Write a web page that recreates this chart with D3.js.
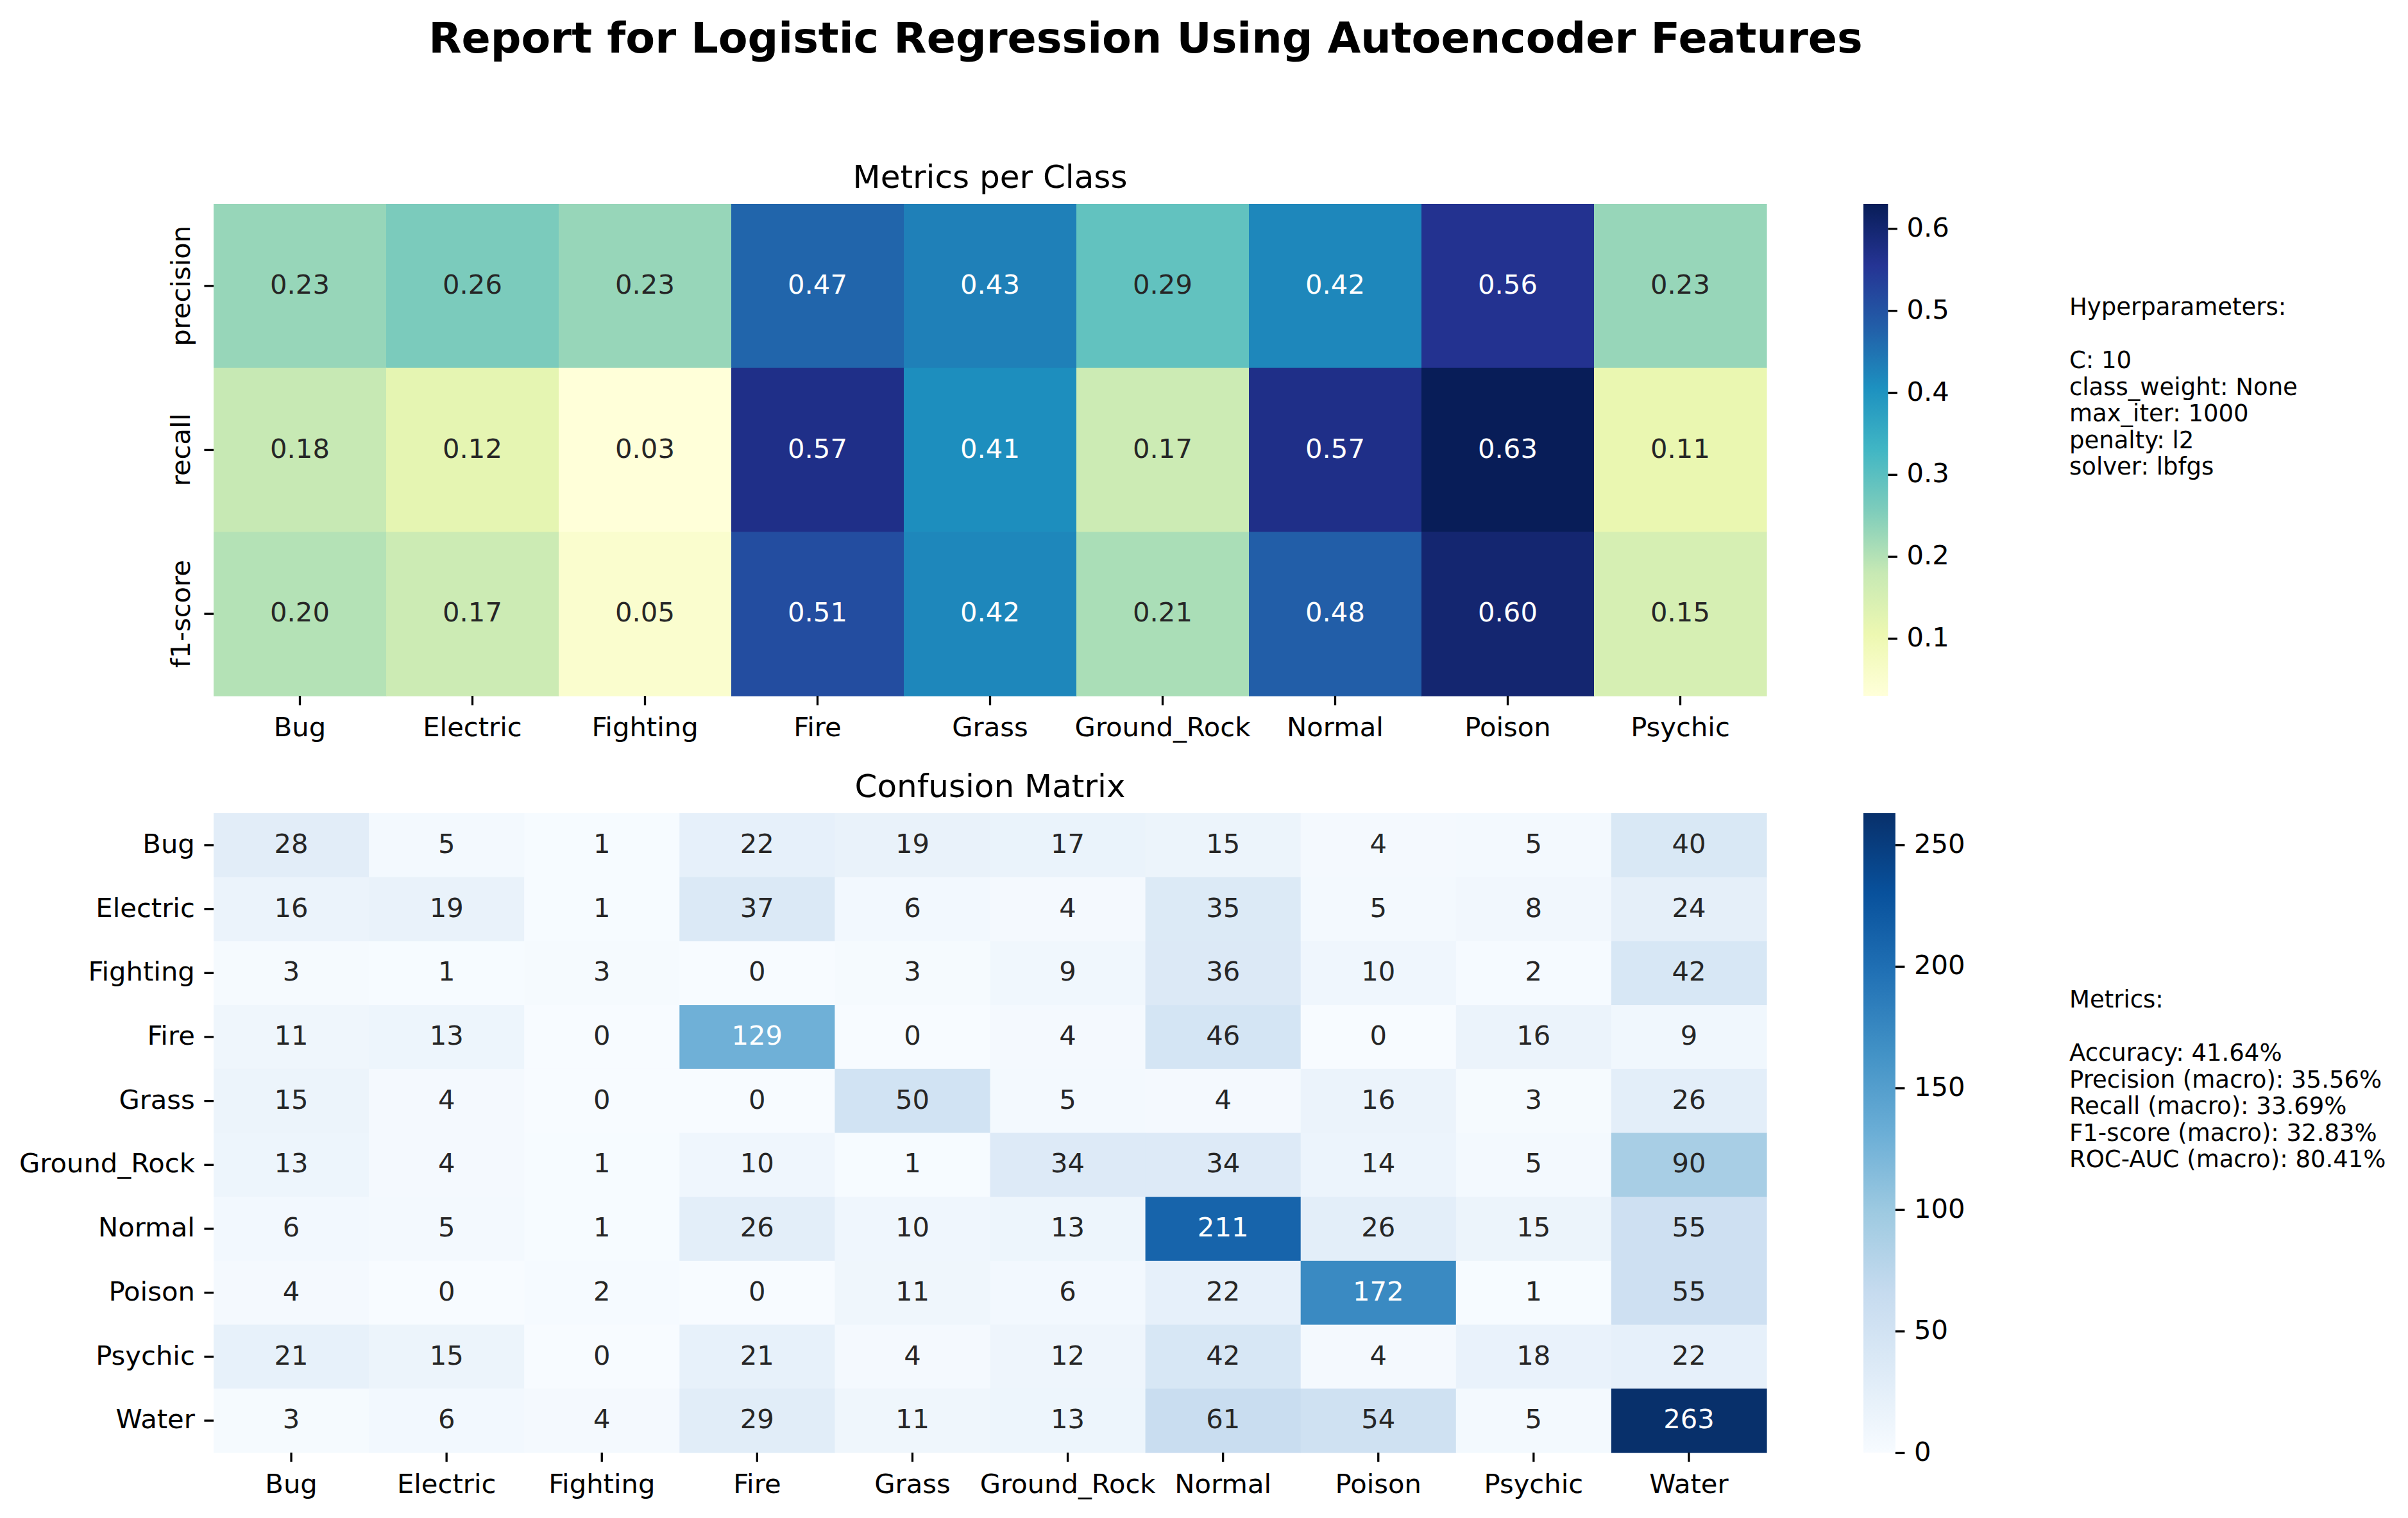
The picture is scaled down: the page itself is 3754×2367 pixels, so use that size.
<!DOCTYPE html>
<html>
<head>
<meta charset="utf-8">
<script src="https://cdn.jsdelivr.net/npm/d3@7"></script>
<style>
  html, body { margin: 0; padding: 0; background: #ffffff; }
  svg { display: block; font-family: "DejaVu Sans", sans-serif; }
</style>
</head>
<body>
<svg id="chart" width="3754" height="2367"></svg>
<script>
// ---------------- DATA ----------------
const metricClasses = ["Bug", "Electric", "Fighting", "Fire", "Grass", "Ground_Rock", "Normal", "Poison", "Psychic"];
const metricNames = ["precision", "recall", "f1-score"];
const precisionValues = [0.23, 0.26, 0.23, 0.47, 0.43, 0.29, 0.42, 0.56, 0.23];
const recallValues    = [0.18, 0.12, 0.03, 0.57, 0.41, 0.17, 0.57, 0.63, 0.11];
const f1Values        = [0.20, 0.17, 0.05, 0.51, 0.42, 0.21, 0.48, 0.60, 0.15];
const metricTicks = [0.1, 0.2, 0.3, 0.4, 0.5, 0.6];

const cmClasses = ["Bug", "Electric", "Fighting", "Fire", "Grass", "Ground_Rock", "Normal", "Poison", "Psychic", "Water"];
const cmBug        = [28, 5, 1, 22, 19, 17, 15, 4, 5, 40];
const cmElectric   = [16, 19, 1, 37, 6, 4, 35, 5, 8, 24];
const cmFighting   = [3, 1, 3, 0, 3, 9, 36, 10, 2, 42];
const cmFire       = [11, 13, 0, 129, 0, 4, 46, 0, 16, 9];
const cmGrass      = [15, 4, 0, 0, 50, 5, 4, 16, 3, 26];
const cmGroundRock = [13, 4, 1, 10, 1, 34, 34, 14, 5, 90];
const cmNormal     = [6, 5, 1, 26, 10, 13, 211, 26, 15, 55];
const cmPoison     = [4, 0, 2, 0, 11, 6, 22, 172, 1, 55];
const cmPsychic    = [21, 15, 0, 21, 4, 12, 42, 4, 18, 22];
const cmWater      = [3, 6, 4, 29, 11, 13, 61, 54, 5, 263];
const cmTicks = [0, 50, 100, 150, 200, 250];

const mainTitle = "Report for Logistic Regression Using Autoencoder Features";
const topTitle = "Metrics per Class";
const bottomTitle = "Confusion Matrix";
const hyperLines = ["Hyperparameters:", "", "C: 10", "class_weight: None", "max_iter: 1000", "penalty: l2", "solver: lbfgs"];
const metricLines = ["Metrics:", "", "Accuracy: 41.64%", "Precision (macro): 35.56%", "Recall (macro): 33.69%", "F1-score (macro): 32.83%", "ROC-AUC (macro): 80.41%"];

// ---------------- HELPERS ----------------
const metricMatrix = [precisionValues, recallValues, f1Values];
const cmMatrix = [cmBug, cmElectric, cmFighting, cmFire, cmGrass, cmGroundRock, cmNormal, cmPoison, cmPsychic, cmWater];

function makeCmap(stops, vmin, vmax) {
  const n = stops.length;
  const pos = d3.scaleLinear().domain([vmin, vmax]).range([0, n - 1]).clamp(true);
  const interp = d3.scaleLinear().domain(d3.range(n)).range(stops).interpolate(d3.interpolateRgb);
  return v => interp(pos(v));
}
function luminance(c) {
  const rgb = d3.rgb(c);
  const ch = [rgb.r, rgb.g, rgb.b].map(v => {
    v = v / 255;
    return v <= 0.03928 ? v / 12.92 : Math.pow((v + 0.055) / 1.055, 2.4);
  });
  return 0.2126 * ch[0] + 0.7152 * ch[1] + 0.0722 * ch[2];
}
const textColor = c => luminance(c) > 0.408 ? "#262626" : "#ffffff";

const svg = d3.select("#chart");
const FS = 41.7;      // 10pt @ 300dpi
const TICK = 14.6;    // 3.5pt
const PAD = 14.6;
const TW = 3.3;       // 0.8pt

// ---------------- LAYOUT ----------------
const left = 333, right = 2754;
const top1 = 318, bot1 = 1085;
const top2 = 1268, bot2 = 2265;
const cbX = 2905;

// Main title
svg.append("text").attr("x", 1786).attr("y", 82)
  .attr("text-anchor", "middle").attr("font-size", 66.7).attr("font-weight", "bold")
  .attr("fill", "#000").text(mainTitle);

function styleAxis(g) {
  g.select(".domain").remove();
  g.selectAll(".tick line").attr("stroke", "#000").attr("stroke-width", TW);
  g.selectAll(".tick text").attr("fill", "#000").attr("font-size", FS)
    .attr("font-family", "DejaVu Sans");
}

function heatmap(opts) {
  const { rows, cols, matrix, x0, x1, y0, y1, cmap, fmt, title, rotateY } = opts;
  const x = d3.scaleBand().domain(cols).range([x0, x1]);
  const y = d3.scaleBand().domain(rows).range([y0, y1]);
  const g = svg.append("g");
  const cells = [];
  matrix.forEach((row, i) => row.forEach((v, j) => cells.push({ r: rows[i], c: cols[j], v })));
  g.selectAll("rect").data(cells).join("rect")
    .attr("x", d => x(d.c)).attr("y", d => y(d.r))
    .attr("width", x.bandwidth() + 0.6).attr("height", y.bandwidth() + 0.6)
    .attr("fill", d => cmap(d.v));
  g.selectAll("text.ann").data(cells).join("text").attr("class", "ann")
    .attr("x", d => x(d.c) + x.bandwidth() / 2)
    .attr("y", d => y(d.r) + y.bandwidth() / 2)
    .attr("dy", "0.29em")
    .attr("text-anchor", "middle").attr("font-size", FS)
    .attr("fill", d => textColor(cmap(d.v)))
    .text(d => fmt(d.v));

  // x axis
  const gx = svg.append("g").attr("transform", `translate(0,${y1})`)
    .call(d3.axisBottom(x).tickSize(TICK).tickPadding(PAD));
  styleAxis(gx);
  gx.selectAll(".tick text").attr("dy", "0.8em");

  // y axis
  const gy = svg.append("g").attr("transform", `translate(${x0},0)`)
    .call(d3.axisLeft(y).tickSize(TICK).tickPadding(PAD));
  styleAxis(gy);
  if (rotateY) {
    gy.selectAll(".tick text")
      .attr("transform", "rotate(-90)")
      .attr("x", 0).attr("y", -(TICK + PAD + 8)).attr("dy", null)
      .attr("text-anchor", "middle");
  } else {
    gy.selectAll(".tick text").attr("dy", "0.29em");
  }

  // subplot title
  svg.append("text").attr("x", (x0 + x1) / 2).attr("y", y0 - 25)
    .attr("text-anchor", "middle").attr("font-size", 50).attr("fill", "#000").text(title);
}

function colorbar(opts) {
  const { id, stops, vmin, vmax, y0, y1, ticks, fmt } = opts;
  const w = (y1 - y0) / 20;
  const defs = svg.append("defs");
  const grad = defs.append("linearGradient").attr("id", id)
    .attr("x1", 0).attr("y1", 1).attr("x2", 0).attr("y2", 0);
  stops.forEach((c, i) => grad.append("stop")
    .attr("offset", i / (stops.length - 1)).attr("stop-color", c));
  svg.append("rect").attr("x", cbX).attr("y", y0).attr("width", w).attr("height", y1 - y0)
    .attr("fill", `url(#${id})`);
  const s = d3.scaleLinear().domain([vmin, vmax]).range([y1, y0]);
  const ga = svg.append("g").attr("transform", `translate(${cbX + w},0)`)
    .call(d3.axisRight(s).tickValues(ticks).tickFormat(fmt).tickSize(TICK).tickPadding(PAD));
  styleAxis(ga);
  ga.selectAll(".tick text").attr("dy", "0.29em");
}

// ---------------- TOP: metrics per class ----------------
const ylgnbu = d3.schemeYlGnBu[9];
const mMin = d3.min(metricMatrix.flat()), mMax = d3.max(metricMatrix.flat());
const cmapTop = makeCmap(ylgnbu, mMin, mMax);
heatmap({ rows: metricNames, cols: metricClasses, matrix: metricMatrix,
  x0: left, x1: right, y0: top1, y1: bot1, cmap: cmapTop, fmt: d3.format(".2f"),
  title: topTitle, rotateY: true });
colorbar({ id: "gTop", stops: ylgnbu, vmin: mMin, vmax: mMax, y0: top1, y1: bot1,
  ticks: metricTicks, fmt: d3.format(".1f") });

// ---------------- BOTTOM: confusion matrix ----------------
const blues = d3.schemeBlues[9];
const cMin = d3.min(cmMatrix.flat()), cMax = d3.max(cmMatrix.flat());
const cmapBot = makeCmap(blues, cMin, cMax);
heatmap({ rows: cmClasses, cols: cmClasses, matrix: cmMatrix,
  x0: left, x1: right, y0: top2, y1: bot2, cmap: cmapBot, fmt: d3.format("d"),
  title: bottomTitle, rotateY: false });
colorbar({ id: "gBot", stops: blues, vmin: cMin, vmax: cMax, y0: top2, y1: bot2,
  ticks: cmTicks, fmt: d3.format("d") });

// ---------------- side text ----------------
function textBlock(lines, x, y) {
  const t = svg.append("text").attr("x", x).attr("y", y).attr("font-size", 37).attr("fill", "#000");
  lines.forEach((l, i) => t.append("tspan").attr("x", x).attr("y", y + i * 41.5).text(l));
}
textBlock(hyperLines, 3226, 491);
textBlock(metricLines, 3226, 1571);
</script>
</body>
</html>
